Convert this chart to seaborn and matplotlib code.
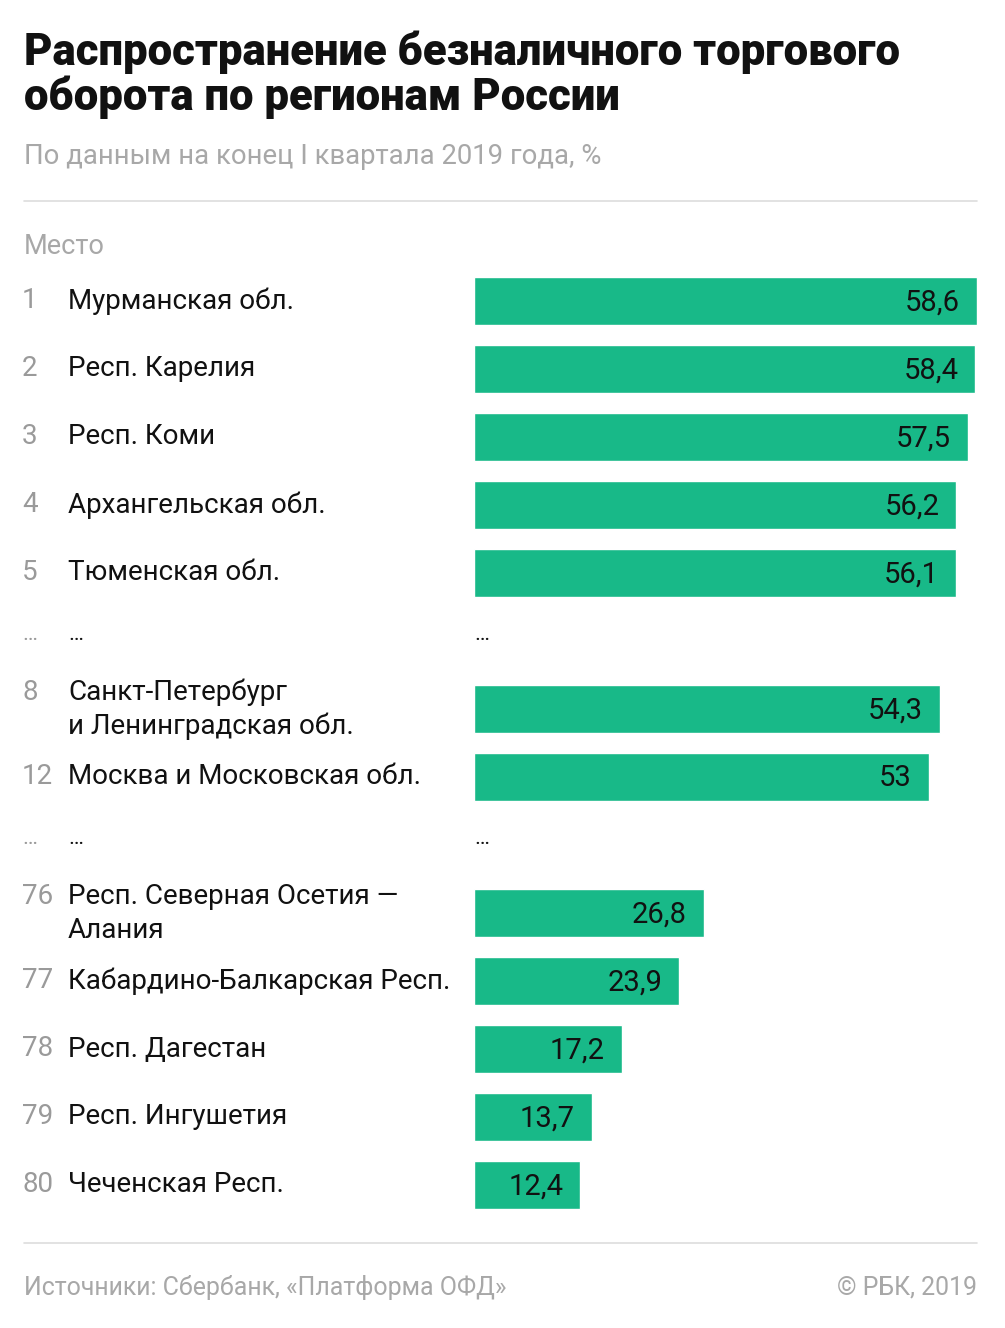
import pandas as pd
import matplotlib.pyplot as plt
import matplotlib.transforms as mtransforms
import seaborn as sns

# Data
ranks = ['1', '2', '3', '4', '5', '8', '12', '76', '77', '78', '79', '80']
regions = ['Мурманская обл.', 'Респ. Карелия', 'Респ. Коми', 'Архангельская обл.',
           'Тюменская обл.', 'Санкт-Петербург\nи Ленинградская обл.',
           'Москва и Московская обл.', 'Респ. Северная Осетия —\nАлания',
           'Кабардино-Балкарская Респ.', 'Респ. Дагестан', 'Респ. Ингушетия',
           'Чеченская Респ.']
values = [58.6, 58.4, 57.5, 56.2, 56.1, 54.3, 53.0, 26.8, 23.9, 17.2, 13.7, 12.4]
gap_after = ['5', '12']

df = pd.DataFrame({'rank': ranks, 'region': regions, 'value': values})

order = []
for r in ranks:
    order.append(r)
    if r in gap_after:
        order.append('gap_' + r)

GREEN = '#18B988'
GRAY = '#9a9a9a'
LIGHT = '#a8a8a8'
FONT = ['Roboto', 'DejaVu Sans']

sns.set_style('white')
plt.rcParams['font.family'] = FONT

W, H = 1005, 1328
fig = plt.figure(figsize=(W / 100, H / 100), dpi=100)

# bar axes in pixel layout
top_px, slot_px = 267, 68
n = len(order)
ax = fig.add_axes([474 / W, 1 - (top_px + n * slot_px) / H, 503 / W, n * slot_px / H])
sns.barplot(data=df, x='value', y='rank', order=order, color=GREEN, orient='h',
            width=0.72, saturation=1, errorbar=None, ax=ax)
ax.set_xlim(0, 58.6)
ax.set_ylim(n - 0.5, -0.5)
ax.axis('off')

# value labels inside bars
offset = mtransforms.ScaledTranslation(-17 / 100, 0, fig.dpi_scale_trans)
for r, v in zip(ranks, values):
    i = order.index(r)
    lab = ('%g' % v).replace('.', ',')
    ax.text(v, i + 0.02, lab, ha='right', va='center', fontsize=21, color='#111111',
            transform=ax.transData + offset)

# left labels: x in figure coords, y in data coords
tr = mtransforms.blended_transform_factory(fig.transFigure, ax.transData)
LS = 20
for r, name in zip(ranks, regions):
    i = order.index(r)
    lines = name.split('\n')
    if len(lines) == 2:
        y0 = i - 0.25
        ax.text(68 / W, y0, lines[0], transform=tr, ha='left', va='center',
                fontsize=LS, color='#111111')
        ax.text(68 / W, i + 0.25, lines[1], transform=tr, ha='left', va='center',
                fontsize=LS, color='#111111')
    else:
        y0 = i
        ax.text(68 / W, y0, name, transform=tr, ha='left', va='center',
                fontsize=LS, color='#111111')
    ax.text(22 / W, y0, r, transform=tr, ha='left', va='center',
            fontsize=LS, color=GRAY)

for k in order:
    if k.startswith('gap'):
        i = order.index(k)
        ax.text(22 / W, i - 0.1, '…', transform=tr, ha='left', va='center',
                fontsize=16, color=GRAY)
        ax.text(68 / W, i - 0.1, '…', transform=tr, ha='left', va='center',
                fontsize=16, color='#111111')
        ax.text(0, i - 0.1, '…', ha='left', va='center', fontsize=16,
                color='#111111')

# header
fig.text(24 / W, 1 - 52 / H, 'Распространение безналичного торгового',
         fontsize=31.5, fontweight='black', color='#111111', va='center')
fig.text(24 / W, 1 - 97 / H, 'оборота по регионам России',
         fontsize=31.5, fontweight='black', color='#111111', va='center')
fig.text(24 / W, 1 - 157 / H, 'По данным на конец I квартала 2019 года, %',
         fontsize=19.8, color=LIGHT, va='center')
fig.text(24 / W, 1 - 246 / H, 'Место', fontsize=19.5, color=LIGHT, va='center')

for y in (201, 1243):
    fig.add_artist(plt.Line2D([24 / W, 977 / W], [1 - y / H, 1 - y / H],
                              color='#dddddd', lw=1.2))

fig.text(24 / W, 1 - 1287 / H, 'Источники: Сбербанк, «Платформа ОФД»',
         fontsize=17.9, color=LIGHT, va='center')
fig.text(977 / W, 1 - 1287 / H, '© РБК, 2019', fontsize=17.9, color=LIGHT,
         va='center', ha='right')

fig.savefig('out.png', dpi=100, facecolor='white')
